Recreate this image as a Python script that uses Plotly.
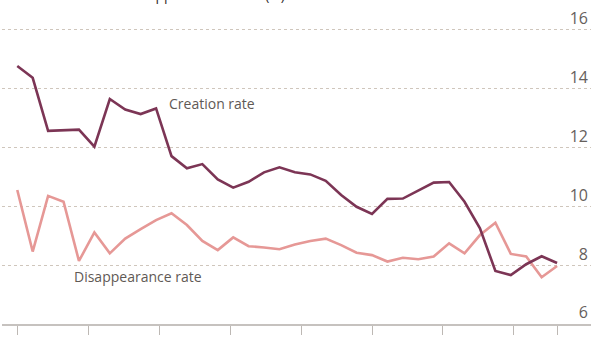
import plotly.graph_objects as go

# Data (annual observations, evenly spaced)
periods = list(range(36))
creation_rate = [14.76, 14.36, 12.56, 12.59, 12.60, 12.02, 13.64, 13.28, 13.13, 13.32,
                 11.70, 11.29, 11.43, 10.91, 10.63, 10.83, 11.15, 11.32, 11.15, 11.08,
                 10.86, 10.38, 9.98, 9.74, 10.25, 10.26, 10.53, 10.80, 10.82, 10.15,
                 9.25, 7.80, 7.66, 8.03, 8.30, 8.07]
disappearance_rate = [10.55, 8.46, 10.35, 10.15, 8.14, 9.11, 8.40, 8.90, 9.22, 9.53,
                      9.76, 9.36, 8.82, 8.51, 8.94, 8.64, 8.60, 8.54, 8.70, 8.82,
                      8.90, 8.68, 8.42, 8.34, 8.12, 8.25, 8.20, 8.29, 8.74, 8.40,
                      9.02, 9.44, 8.38, 8.29, 7.59, 7.97]
x_tick_positions = [0, 4.6, 9.2, 13.8, 18.4, 23.0, 27.6, 32.2, 35]
y_tick_values = [6, 8, 10, 12, 14, 16]
y_tick_labels = ["6", "8", "10", "12", "14", "16"]

FONT = "Open Sans"
fig = go.Figure()
fig.add_trace(go.Scatter(x=periods, y=disappearance_rate, mode="lines",
                         line=dict(color="#e69896", width=2.6), name="Disappearance rate",
                         hoverinfo="skip"))
fig.add_trace(go.Scatter(x=periods, y=creation_rate, mode="lines",
                         line=dict(color="#7c3555", width=2.6), name="Creation rate",
                         hoverinfo="skip"))

fig.add_annotation(x=9.71, y=13.48, xref="x", yref="y", text="Creation rate",
                   showarrow=False, xanchor="left", yanchor="middle",
                   font=dict(family=FONT, size=14, color="#5f5955"))
fig.add_annotation(x=3.53, y=7.63, xref="x", yref="y", text="Disappearance rate",
                   showarrow=False, xanchor="left", yanchor="middle",
                   font=dict(family=FONT, size=14, color="#5f5955"))
fig.add_annotation(x=0.0, y=0.992, xref="paper", yref="paper", xshift=6,
                   text="Firm creation and disappearance rates (%)",
                   showarrow=False, xanchor="left", yanchor="bottom",
                   font=dict(family=FONT, size=14, color="#33302e"))

fig.update_layout(
    width=616, height=346,
    margin=dict(l=2, r=25, t=3, b=22),
    paper_bgcolor="white", plot_bgcolor="white",
    showlegend=False,
    font=dict(family=FONT),
    xaxis=dict(range=[-0.99, 37.2], showgrid=False, zeroline=False,
               showline=True, linecolor="#c6c2bf", linewidth=2,
               tickmode="array", tickvals=x_tick_positions, ticktext=[""] * len(x_tick_positions),
               ticks="outside", ticklen=9, tickwidth=1, tickcolor="#bdb8b4"),
    yaxis=dict(range=[6, 16.9], side="right", showgrid=True, gridcolor="#cfc6bc",
               griddash="dot", gridwidth=1, zeroline=False, showline=False,
               tickmode="array", tickvals=y_tick_values, ticktext=y_tick_labels,
               ticklabelposition="inside top", ticks="",
               tickfont=dict(family=FONT, size=16, color="#66605c")),
)
fig.write_html("out.html")
